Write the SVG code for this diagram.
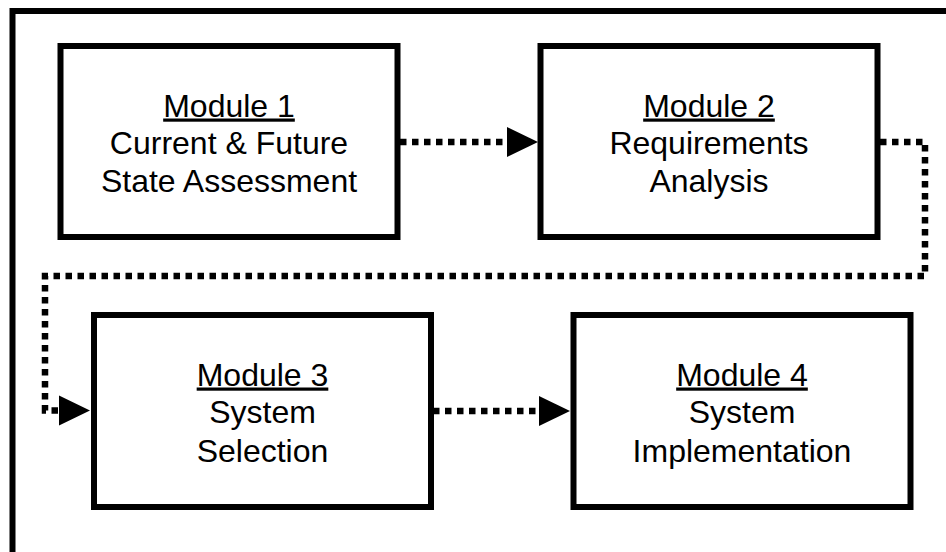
<svg xmlns="http://www.w3.org/2000/svg" width="946" height="552" viewBox="0 0 946 552">
<style>
.box{fill:#fff;stroke:#000;stroke-width:6}
.t{font-family:"Liberation Sans",Arial,sans-serif;font-size:32px;fill:#000;text-anchor:middle}
.u{text-decoration:underline}
.c{fill:none;stroke:#000;stroke-width:6.5;stroke-dasharray:6.5 5.5}
</style>
<defs>
<marker id="ah" markerUnits="userSpaceOnUse" markerWidth="32" markerHeight="32" refX="0" refY="15" orient="auto" viewBox="0 0 32 30">
<path d="M0,0 L31,15 L0,30 Z" fill="#000"/>
</marker>
</defs>
<rect width="946" height="552" fill="#fff"/>
<path d="M12.5,560 V11 H960" fill="none" stroke="#000" stroke-width="6"/>
<g id="module1">
<rect class="box" x="60.5" y="46" width="337" height="191"/>
<text class="t" x="229" y="116.5"><tspan class="u">Module 1</tspan></text>
<text class="t" x="229" y="153.5">Current &amp; Future</text>
<text class="t" x="229" y="192">State Assessment</text>
</g>
<g id="module2">
<rect class="box" x="540.5" y="46" width="337" height="191"/>
<text class="t" x="709" y="116.5"><tspan class="u">Module 2</tspan></text>
<text class="t" x="709" y="153.5">Requirements</text>
<text class="t" x="709" y="192">Analysis</text>
</g>
<g id="module3">
<rect class="box" x="94" y="315" width="337" height="192"/>
<text class="t" x="262.5" y="385.5"><tspan class="u">Module 3</tspan></text>
<text class="t" x="262.5" y="423">System</text>
<text class="t" x="262.5" y="461.5">Selection</text>
</g>
<g id="module4">
<rect class="box" x="573.5" y="315" width="337" height="192"/>
<text class="t" x="742" y="385.5"><tspan class="u">Module 4</tspan></text>
<text class="t" x="742" y="423">System</text>
<text class="t" x="742" y="461.5">Implementation</text>
</g>
<g id="connectors">
<path class="c" d="M400,142 H507" marker-end="url(#ah)"/>
<path class="c" d="M880,142 H925 V276 H45 V410.5 H59" marker-end="url(#ah)"/>
<path class="c" d="M433,411 H539" marker-end="url(#ah)"/>
</g>
</svg>
